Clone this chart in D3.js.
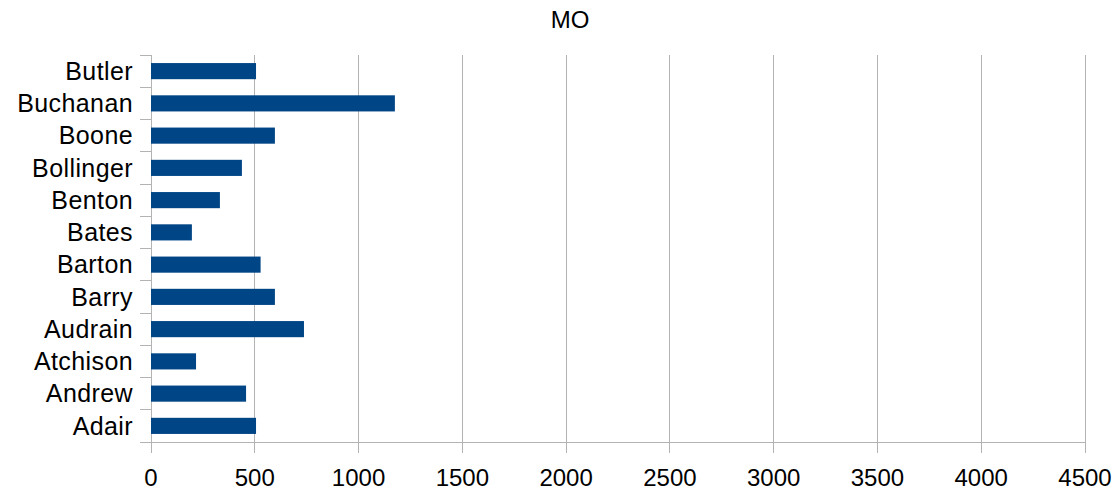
<!DOCTYPE html>
<html>
<head>
<meta charset="utf-8">
<script src="https://cdn.jsdelivr.net/npm/d3@7"></script>
<style>
  body { margin: 0; background: #fff; }
  text { font-family: "Liberation Sans", Arial, sans-serif; fill: #000; }
</style>
</head>
<body>
<svg id="main" width="1118" height="495"></svg>
<script>
// data (bottom to top)
var counties = ["Adair", "Andrew", "Atchison", "Audrain", "Barry", "Barton",
                "Bates", "Benton", "Bollinger", "Boone", "Buchanan", "Butler"];
var values = [506, 458, 217, 737, 597, 528, 197, 332, 438, 597, 1175, 506];
var xTicks = [0, 500, 1000, 1500, 2000, 2500, 3000, 3500, 4000, 4500];
var title = "MO";

var svg = d3.select("#main");
// plot box (window.top is taken, so plotTop)
var plotLeft = 151, plotRight = 1085, plotTop = 55, plotBottom = 442;
var fontSize = 24;

var x = d3.scaleLinear().domain([0, 4500]).range([plotLeft, plotRight]);
// first category at the bottom
var y = d3.scaleBand().domain(counties.slice().reverse())
  .range([plotTop, plotBottom]).paddingInner(0.5).paddingOuter(0.25);
var band = (plotBottom - plotTop) / counties.length;

// gridlines
svg.append("g").selectAll("line")
  .data(xTicks)
  .enter().append("line")
  .attr("x1", d => x(d)).attr("x2", d => x(d))
  .attr("y1", plotTop).attr("y2", plotBottom + 11)
  .style("stroke", "#b3b3b3").style("stroke-width", 1)
  .attr("shape-rendering", "crispEdges");

// category ticks at band boundaries
var bounds = d3.range(counties.length + 1);
svg.append("g").selectAll("line")
  .data(bounds)
  .enter().append("line")
  .attr("x1", plotLeft - 11).attr("x2", plotLeft)
  .attr("y1", d => plotTop + d * band).attr("y2", d => plotTop + d * band)
  .style("stroke", "#b3b3b3").style("stroke-width", 1)
  .attr("shape-rendering", "crispEdges");

// axis lines
svg.append("line")
  .attr("x1", plotLeft).attr("x2", plotLeft).attr("y1", plotTop).attr("y2", plotBottom + 11)
  .style("stroke", "#b3b3b3").attr("shape-rendering", "crispEdges");
svg.append("line")
  .attr("x1", plotLeft - 11).attr("x2", plotRight).attr("y1", plotBottom).attr("y2", plotBottom)
  .style("stroke", "#b3b3b3").attr("shape-rendering", "crispEdges");

// bars
svg.append("g").selectAll("rect")
  .data(counties)
  .enter().append("rect")
  .attr("x", x(0))
  .attr("y", d => y(d))
  .attr("width", (d, i) => x(values[i]) - x(0))
  .attr("height", y.bandwidth())
  .style("fill", "#004586");

// category labels - these come out a bit wider than the numbers
svg.append("g").selectAll("text")
  .data(counties)
  .enter().append("text")
  .attr("x", plotLeft - 18)
  .attr("y", d => y(d) + y.bandwidth() / 2)
  .attr("dy", "0.35em")
  .attr("text-anchor", "end")
  .style("font-size", "25px")
  .style("letter-spacing", "0.4px")
  .text(d => d);

// value labels
svg.append("g").selectAll("text")
  .data(xTicks)
  .enter().append("text")
  .attr("x", d => x(d))
  .attr("y", 486)
  .attr("text-anchor", "middle")
  .style("font-size", fontSize + "px")
  .text(d => d);

// title
svg.append("text")
  .attr("x", 570).attr("y", 28)
  .attr("text-anchor", "middle")
  .style("font-size", fontSize + "px")
  .text(title);
</script>
</body>
</html>
